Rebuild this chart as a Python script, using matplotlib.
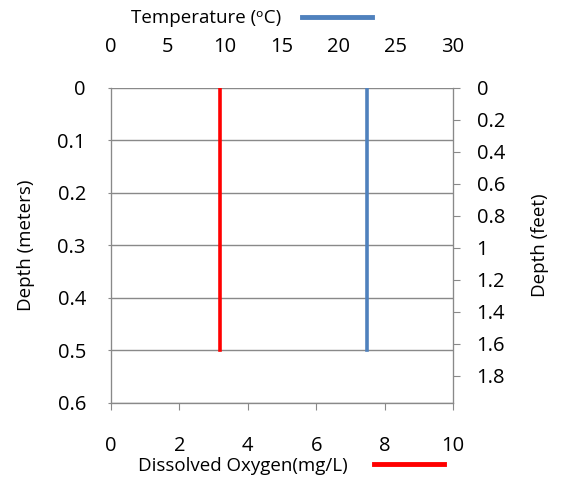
import matplotlib.pyplot as plt
from matplotlib.lines import Line2D
from matplotlib.ticker import FuncFormatter, MultipleLocator

plt.rcParams['font.family'] = ['Open Sans', 'DejaVu Sans']

# depth profile readings
depth_m = [0, 0.1, 0.2, 0.3, 0.4, 0.5]
dissolved_oxygen = [3.2, 3.2, 3.2, 3.2, 3.2, 3.2]
temperature = [22.5, 22.5, 22.5, 22.5, 22.5, 22.5]
M_TO_FT = 3.28084

grey = '#898989'
fig = plt.figure(figsize=(5.62, 4.78), dpi=100)
ax = fig.add_axes([0.1975, 0.157, 0.6085, 0.659])

fmt = FuncFormatter(lambda v, p: '%g' % round(v, 2))

# dissolved oxygen on bottom axis
ax.plot(dissolved_oxygen, depth_m, color='#FF0000', lw=2.6, zorder=3)
ax.set_xlim(0, 10)
ax.set_ylim(0.6, 0)
ax.xaxis.set_major_locator(MultipleLocator(2))
ax.yaxis.set_major_locator(MultipleLocator(0.1))
ax.yaxis.set_major_formatter(fmt)
ax.grid(axis='y', color=grey, lw=1)
ax.tick_params(axis='x', direction='out', length=5, color=grey, pad=19, labelsize=14.5)
ax.tick_params(axis='y', direction='out', length=2, color=grey, pad=16, labelsize=14.5)
ax.set_ylabel('Depth (meters)', fontsize=13.5, labelpad=16)

# temperature on top axis
ax2 = ax.twiny()
ax2.plot(temperature, depth_m, color='#4F81BD', lw=2.6, zorder=3)
ax2.set_xlim(0, 30)
ax2.xaxis.set_major_locator(MultipleLocator(5))
ax2.tick_params(axis='x', length=0, pad=22, labelsize=14.5)

# depth in feet on right axis
ax3 = ax.twinx()
ax3.set_ylim(0.6 * M_TO_FT, 0)
ax3.set_yticks([0, 0.2, 0.4, 0.6, 0.8, 1.0, 1.2, 1.4, 1.6, 1.8])
ax3.yaxis.set_major_formatter(fmt)
ax3.tick_params(axis='y', direction='out', length=5, color=grey, pad=12, labelsize=14.5)
ax3.set_ylabel('Depth (feet)', fontsize=13.5, labelpad=19)

for a in (ax, ax2, ax3):
    for s in a.spines.values():
        s.set_color(grey)
    a.spines['top'].set_visible(False)

# legend labels with their line samples
leg1 = fig.legend([Line2D([], [], color='#4F81BD', lw=3.5)], ['Temperature (\u1d52C)'],
                  loc='center', bbox_to_anchor=(0.4475, 0.962), frameon=False,
                  markerfirst=False, handlelength=3.7, fontsize=13.5, handletextpad=1.1)
leg2 = fig.legend([Line2D([], [], color='#FF0000', lw=3.5)], ['Dissolved Oxygen(mg/L)'],
                  loc='center', bbox_to_anchor=(0.518, 0.025), frameon=False,
                  markerfirst=False, handlelength=3.7, fontsize=13.5, handletextpad=1.4)

fig.savefig('out.png', dpi=100)
